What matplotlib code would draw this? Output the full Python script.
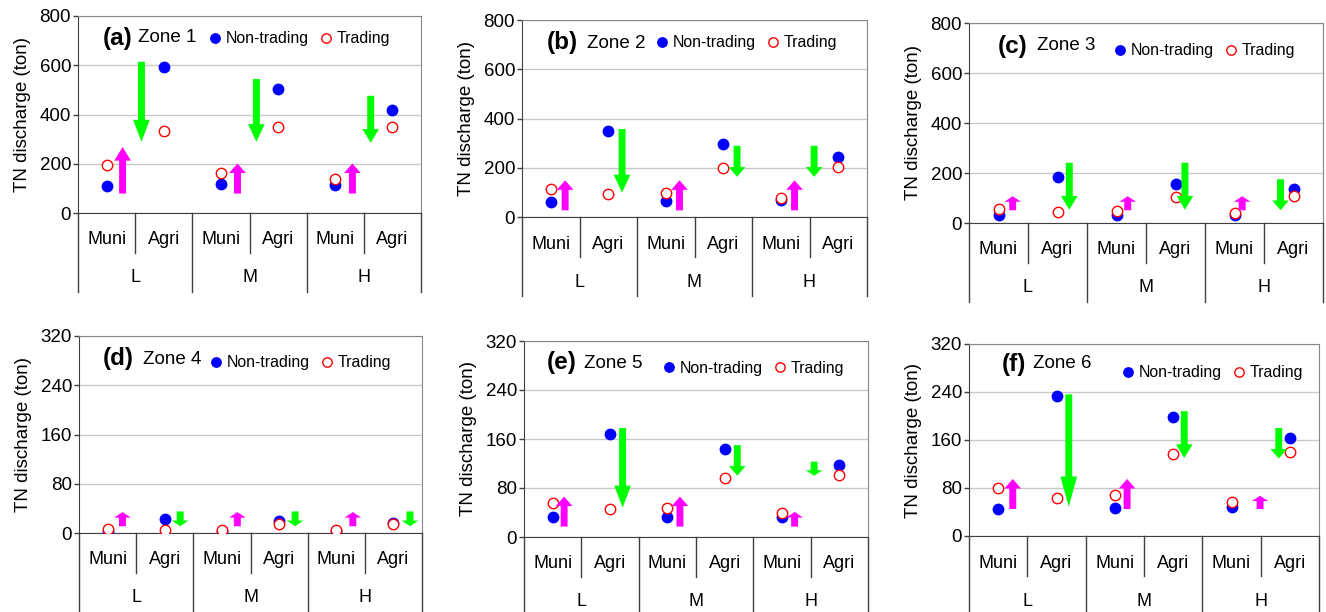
import numpy as np
import matplotlib.pyplot as plt
import matplotlib.transforms as mtransforms
from matplotlib.patches import FancyArrowPatch, ArrowStyle

plt.rcParams['font.family'] = ['Liberation Sans', 'DejaVu Sans']

# order of every series: L-Muni, L-Agri, M-Muni, M-Agri, H-Muni, H-Agri
SOURCES = ['Muni', 'Agri']
LEVELS = ['L', 'M', 'H']
PANEL_TAGS = ['(a)', '(b)', '(c)', '(d)', '(e)', '(f)']
ZONE_NAMES = ['Zone 1', 'Zone 2', 'Zone 3', 'Zone 4', 'Zone 5', 'Zone 6']
SERIES_NAMES = ['Non-trading', 'Trading']

zone1_nontrading = [108, 594, 117, 503, 115, 419]
zone1_trading = [194, 332, 164, 349, 137, 351]
zone1_arrow_from = [79, 614, 79, 544, 79, 476]
zone1_arrow_to = [268, 289, 201, 289, 201, 285]

zone2_nontrading = [62, 348, 65, 296, 70, 243]
zone2_trading = [115, 92, 99, 201, 79, 205]
zone2_arrow_from = [27, 357, 27, 289, 27, 289]
zone2_arrow_to = [149, 99, 149, 163, 149, 163]

zone3_nontrading = [32, 183, 31, 155, 31, 135]
zone3_trading = [57, 45, 48, 104, 41, 109]
zone3_arrow_from = [51, 241, 51, 241, 51, 175]
zone3_arrow_to = [107, 53, 107, 53, 107, 51]

zone4_nontrading = [3, 22, 4, 20, 4, 17]
zone4_trading = [7, 5.5, 5, 14, 5, 14]
zone4_arrow_from = [11, 35, 11, 35, 11, 35]
zone4_arrow_to = [34, 11, 34, 11, 34, 11]

zone5_nontrading = [32, 168, 33, 143, 32, 117]
zone5_trading = [56, 45, 48, 97, 40, 101]
zone5_arrow_from = [17, 178, 17, 150, 17, 123]
zone5_arrow_to = [66, 48, 66, 100, 41, 100]

zone6_nontrading = [44.5, 234, 46, 199, 48, 164]
zone6_trading = [80, 63, 68, 137, 57, 140]
zone6_arrow_from = [45, 236, 45, 208, 45, 180]
zone6_arrow_to = [95, 49, 95, 130, 67, 129]

Y_MAX = [800, 800, 800, 320, 320, 320]
Y_STEP = [200, 200, 200, 80, 80, 80]

NONTRADING = [zone1_nontrading, zone2_nontrading, zone3_nontrading,
              zone4_nontrading, zone5_nontrading, zone6_nontrading]
TRADING = [zone1_trading, zone2_trading, zone3_trading,
           zone4_trading, zone5_trading, zone6_trading]
ARROW_FROM = [zone1_arrow_from, zone2_arrow_from, zone3_arrow_from,
              zone4_arrow_from, zone5_arrow_from, zone6_arrow_from]
ARROW_TO = [zone1_arrow_to, zone2_arrow_to, zone3_arrow_to,
            zone4_arrow_to, zone5_arrow_to, zone6_arrow_to]

# ---- layout (pixels) ----
W, H, DPI = 1326, 612, 100
AXES_PX = [(78, 16, 421, 213), (522, 20, 867, 217), (969, 23, 1323, 223),
           (79, 336, 422, 533), (524, 341, 868, 537), (969, 344, 1319, 536)]
TAG_PX = [(103, 38), (547, 43), (998, 46), (103, 359), (547, 363), (1002, 364)]
ZONE_PX = [(138, 38), (587, 43), (1037, 46), (143, 359), (584, 363), (1033, 364)]
LEGEND_PX = [(215, 39), (662, 43), (1120, 51), (216, 363), (669, 368), (1128, 373)]
# horizontal offset of each arrow from its category centre
ARROW_DX = [[0.28, -0.39, 0.29, -0.38, 0.30, -0.38],
            [0.25, 0.24, 0.24, 0.24, 0.24, -0.42],
            [0.24, 0.20, 0.19, 0.16, 0.13, -0.22],
            [0.26, 0.27, 0.27, 0.28, 0.29, 0.29],
            [0.20, 0.22, 0.22, 0.22, 0.22, -0.44],
            [0.25, 0.21, 0.21, 0.19, 0.49, -0.19]]

UP_COLOR = '#ff00ff'
DOWN_COLOR = '#00ff00'
DARK = '#404040'


def fig_xy(x, y):
    return x / W, 1 - y / H


fig = plt.figure(figsize=(W / DPI, H / DPI), dpi=DPI)

for k in range(6):
    l, t, r, b = AXES_PX[k]
    ax_h = b - t
    ax = fig.add_axes([l / W, 1 - b / H, (r - l) / W, ax_h / H])
    x = np.arange(6)
    ymax = Y_MAX[k]

    ax.set_xlim(-0.5, 5.5)
    ax.set_ylim(0, ymax)
    ax.set_yticks(np.arange(0, ymax + 1, Y_STEP[k]))
    ax.set_xticks([])
    ax.yaxis.grid(True, color='#c8c8c8', lw=1)
    ax.set_axisbelow(True)
    ax.tick_params(axis='y', length=3.5, width=1, color=DARK, labelsize=13.5, pad=1.5)
    for side in ['left', 'bottom']:
        ax.spines[side].set_color(DARK)
    for side in ['top', 'right']:
        ax.spines[side].set_color('#888888')
    ax.set_ylabel('TN discharge (ton)', fontsize=13.5, labelpad=6)

    nt_line, = ax.plot(x, NONTRADING[k], 'o', ms=7.5, color='blue', ls='none', zorder=3)
    tr_line, = ax.plot(x, TRADING[k], 'o', ms=7.5, mfc='white', mec='red', mew=1,
                       ls='none', zorder=4)

    # change arrows: up for municipal, down for agricultural
    px_per_unit = ax_h / ymax
    for i in range(6):
        y0, y1 = ARROW_FROM[k][i], ARROW_TO[k][i]
        length_px = abs(y1 - y0) * px_per_unit
        head_px = 0.25 * length_px + 2
        style = ArrowStyle.Simple(head_length=head_px * 0.72, head_width=12,
                                  tail_width=5)
        arr = FancyArrowPatch((x[i] + ARROW_DX[k][i], y0), (x[i] + ARROW_DX[k][i], y1),
                              arrowstyle=style, mutation_scale=1, shrinkA=0, shrinkB=0,
                              fc=UP_COLOR if i % 2 == 0 else DOWN_COLOR, ec='none',
                              zorder=5)
        ax.add_patch(arr)

    # two-level category axis below the plot
    trans = mtransforms.blended_transform_factory(ax.transData, ax.transAxes)
    short = -40 / ax_h
    full = -79 / ax_h
    for xs in [0.5, 2.5, 4.5]:
        ax.plot([xs, xs], [0, short], color=DARK, lw=1, transform=trans, clip_on=False)
    for xs in [-0.5, 1.5, 3.5, 5.5]:
        ax.plot([xs, xs], [0, full], color=DARK, lw=1, transform=trans, clip_on=False)
    for i in range(6):
        ax.text(x[i], -27 / ax_h, SOURCES[i % 2], ha='center', va='center',
                fontsize=13, transform=trans)
    for g, lev in enumerate(LEVELS):
        ax.text(2 * g + 0.5, -65 / ax_h, lev, ha='center', va='center',
                fontsize=13, transform=trans)

    fig.text(*fig_xy(*TAG_PX[k]), PANEL_TAGS[k], fontsize=17.5, fontweight='bold',
             ha='left', va='center')
    fig.text(*fig_xy(*ZONE_PX[k]), ZONE_NAMES[k], fontsize=13.5, ha='left', va='center')

    lx, ly = LEGEND_PX[k]
    ax.legend([nt_line, tr_line], SERIES_NAMES, ncol=2, loc='center left',
              bbox_to_anchor=fig_xy(lx - 6, ly), bbox_transform=fig.transFigure,
              frameon=False, fontsize=11.4, handlelength=0.8, handletextpad=0.25,
              columnspacing=0.7, borderpad=0, borderaxespad=0, markerscale=0.9)

fig.savefig('out.png', dpi=DPI)
